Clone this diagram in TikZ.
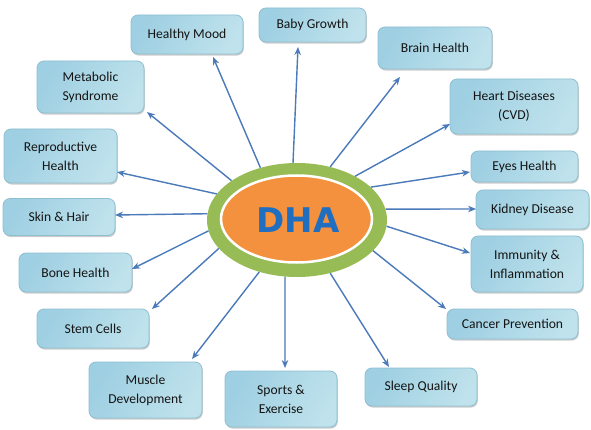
\documentclass[tikz,border=0pt]{standalone}
\usepackage{fontspec}
\setmainfont{Carlito}
\newfontfamily\dhafont{DejaVu Sans}
\usetikzlibrary{shapes.geometric,arrows.meta,shadows}
\definecolor{arrowblue}{HTML}{4A7AB9}
\definecolor{boxA}{HTML}{9ECFE2}
\definecolor{boxB}{HTML}{E2F2F7}
\definecolor{boxC}{HTML}{BFE2EC}
\definecolor{boxedge}{HTML}{8EBFD1}
\definecolor{textc}{HTML}{141414}
\definecolor{dhagreen}{HTML}{98BC55}
\definecolor{dhaorange}{HTML}{F4913F}
\definecolor{dhablue}{HTML}{1F6EC0}
\begin{document}
\begin{tikzpicture}[x=1pt,y=-1pt,
  box/.style={rounded corners=7pt, draw=boxedge, line width=0.8pt,
    left color=boxA, middle color=boxB, right color=boxC, shading angle=60,
    align=center, font=\fontsize{13.6}{19}\selectfont, text=textc, inner sep=2pt,
    drop shadow={shadow xshift=0.8pt, shadow yshift=-1.6pt, fill=black, opacity=0.2}},
  link/.style={draw=arrowblue, line width=1.4pt, -{Stealth[length=8pt,width=6.5pt]}}]
\useasboundingbox (0,0) rectangle (591,430);
\fill[white] (0,0) rectangle (591,430);

% centre
\node[ellipse, fill=dhagreen, minimum width=180pt, minimum height=114pt, inner sep=0pt] (dha) at (297,220) {};
\node[ellipse, fill=dhaorange, draw=white, line width=2.5pt, minimum width=151pt, minimum height=87pt, inner sep=0pt] (core) at (296.5,219) {};
\node[font=\dhafont\bfseries\fontsize{34}{34}\selectfont, text=dhablue, inner sep=0pt] (lbl) at (298,220) {DHA};

% boxes
\node[box, minimum width=112pt, minimum height=39pt] (hm) at (187,34.5) {Healthy Mood};
\node[box, minimum width=107pt, minimum height=34pt] (bg) at (312.5,25) {Baby Growth};
\node[box, minimum width=114pt, minimum height=42pt] (bh) at (435,48) {Brain Health};
\node[box, minimum width=128pt, minimum height=55pt] (hd) at (514,106.5) {Heart Diseases\\(CVD)};
\node[box, minimum width=107pt, minimum height=31pt] (eh) at (524.5,166.5) {Eyes Health};
\node[box, minimum width=113pt, minimum height=39pt] (kd) at (532.5,209.5) {Kidney Disease};
\node[box, minimum width=112pt, minimum height=56pt] (im) at (527,264) {Immunity \&\\Inflammation};
\node[box, minimum width=131pt, minimum height=30pt] (cp) at (512.5,324) {Cancer Prevention};
\node[box, minimum width=112pt, minimum height=38pt] (sq) at (421,387) {Sleep Quality};
\node[box, minimum width=112pt, minimum height=56pt] (se) at (281,399) {Sports \&\\Exercise};
\node[box, minimum width=113pt, minimum height=56pt] (md) at (145.5,390) {Muscle\\Development};
\node[box, minimum width=112pt, minimum height=39pt] (sc) at (93,328.5) {Stem Cells};
\node[box, minimum width=113pt, minimum height=39pt] (bo) at (75.5,272.5) {Bone Health};
\node[box, minimum width=112pt, minimum height=37pt] (sh) at (59,217) {Skin \& Hair};
\node[box, minimum width=113pt, minimum height=54pt] (rh) at (60.5,156) {Reproductive\\Health};
\node[box, minimum width=107pt, minimum height=52pt] (ms) at (90.5,87) {Metabolic\\Syndrome};

% arrow tips
\coordinate (t1) at (213,57);
\coordinate (t2) at (147,112);
\coordinate (t3) at (117,172);
\coordinate (t4) at (298,47);
\coordinate (t5) at (400,77);
\coordinate (t6) at (450,124);
\coordinate (t7) at (470,172);
\coordinate (t8) at (476,209);
\coordinate (t9) at (470,253);
\coordinate (t10) at (446,309);
\coordinate (t11) at (389,367);
\coordinate (t12) at (115,215);
\coordinate (t13) at (132,269);
\coordinate (t14) at (152,309);
\coordinate (t15) at (192,359);
\coordinate (t16) at (285,368);

\draw[link] (dha.125.8) -- (t1);
\draw[link] (dha.149.9) -- (t2);
\draw[link] (dha.162.4) -- (t3);
\draw[link] (dha.94.8) -- (t4);
\draw[link] (dha.58.1) -- (t5);
\draw[link] (dha.37.8) -- (t6);
\draw[link] (dha.24.9) -- (t7);
\draw[link] (dha.7.1) -- (t8);
\draw[link] (dha.-4.5) -- (t9);
\draw[link] (dha.-22.8) -- (t10);
\draw[link] (dha.-58.3) -- (t11);
\draw[link] (dha.176.8) -- (t12);
\draw[link] (dha.187.7) -- (t13);
\draw[link] (dha.200.6) -- (t14);
\draw[link] (dha.234.7) -- (t15);
\draw[link] (dha.258.5) -- (t16);
\end{tikzpicture}
\end{document}
